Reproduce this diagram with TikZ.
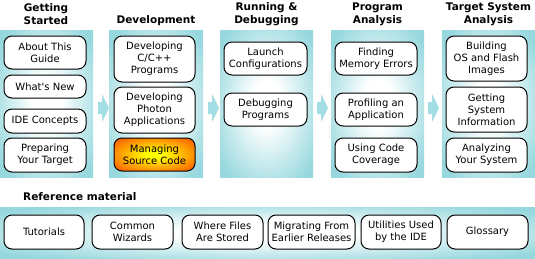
\documentclass[tikz,border=0pt]{standalone}
\usepackage{fontspec}
\setmainfont{DejaVu Sans}[Ligatures=TeXOff]
\usetikzlibrary{calc}
\definecolor{pcyan}{RGB}{150,216,222}
\definecolor{acyan}{RGB}{162,222,228}
\definecolor{hotin}{RGB}{255,190,0}
\definecolor{hotmid}{RGB}{252,120,0}
\definecolor{hotedge}{RGB}{232,72,0}
\pgfdeclareradialshading{panelshade}{\pgfpoint{0bp}{0bp}}{color(0bp)=(white); color(8bp)=(white); color(32bp)=(pcyan); color(50bp)=(pcyan)}
\pgfdeclareradialshading{hotshade}{\pgfpoint{0bp}{0bp}}{color(0bp)=(yellow); color(5bp)=(yellow); color(16bp)=(hotin); color(28bp)=(hotmid); color(40bp)=(hotedge); color(50bp)=(hotedge)}
\begin{document}
\begin{tikzpicture}[x=1pt,y=-1pt,
  box/.style={draw=black, line width=1pt, fill=white, rounded corners=8pt, align=center,
    inner sep=0pt, font=\fontsize{10}{12}\selectfont},
  panel/.style={shading=panelshade, draw=none, inner sep=0pt, anchor=north west},
  head/.style={font=\bfseries\fontsize{10.5}{13}\selectfont, align=center, inner sep=0pt},
  flow/.style={fill=acyan, draw=none}]
\useasboundingbox (0,0) rectangle (535,258);
% panels
\node[panel, minimum width=93pt, minimum height=147pt] (p1) at (0,30) {};
\node[panel, minimum width=94pt, minimum height=147pt] (p2) at (109,30) {};
\node[panel, minimum width=93pt, minimum height=147pt] (p3) at (220,30) {};
\node[panel, minimum width=93pt, minimum height=147pt] (p4) at (331,30) {};
\node[panel, minimum width=93pt, minimum height=147pt] (p5) at (442,30) {};
% arrows between panels
\foreach \x in {98,208,317,428}
  \fill[flow] (\x,102) -- (\x+4,102) -- (\x+4,94) -- (\x+11,108) -- (\x+4,122) -- (\x+4,114) -- (\x,114) -- cycle;
% headings
\node[head] (h1) at (46,14.5) {Getting\\Started};
\node[head] (h2) at (156,21) {Development};
\node[head] (h3) at (266.5,14.5) {Running \&\\Debugging};
\node[head] (h4) at (377.5,14.5) {Program\\Analysis};
\node[head] (h5) at (488.5,14.5) {Target System\\Analysis};
% panel 1
\node[box, minimum width=82pt, minimum height=33pt] (b11) at (45,52.5) {About This\\Guide};
\node[box, minimum width=82pt, minimum height=23pt] (b12) at (45,86.5) {What's New};
\node[box, minimum width=82pt, minimum height=24pt] (b13) at (45,121) {IDE Concepts};
\node[box, minimum width=82pt, minimum height=34pt] (b14) at (45,155) {Preparing\\Your Target};
% panel 2
\node[box, minimum width=81pt, minimum height=46pt] (b21) at (154.5,59) {Developing\\C/C++\\Programs};
\node[box, minimum width=81pt, minimum height=46pt] (b22) at (154.5,110) {Developing\\Photon\\Applications};
\node[box, minimum width=81pt, minimum height=33pt, shading=hotshade] (b23) at (154.5,154.5) {Managing\\Source Code};
% panel 3
\node[box, minimum width=83pt, minimum height=33pt] (b31) at (265.5,58.5) {Launch\\Configurations};
\node[box, minimum width=83pt, minimum height=33pt] (b32) at (265.5,109.5) {Debugging\\Programs};
% panel 4
\node[box, minimum width=82pt, minimum height=33pt] (b41) at (376,58.5) {Finding\\Memory Errors};
\node[box, minimum width=82pt, minimum height=33pt] (b42) at (376,109.5) {Profiling an\\Application};
\node[box, minimum width=82pt, minimum height=34pt] (b43) at (376,155) {Using Code\\Coverage};
% panel 5
\node[box, minimum width=81pt, minimum height=45pt] (b51) at (486.5,58.5) {Building\\OS and Flash\\Images};
\node[box, minimum width=81pt, minimum height=45pt] (b52) at (486.5,109.5) {Getting\\System\\Information};
\node[box, minimum width=81pt, minimum height=34pt] (b53) at (486.5,155) {Analyzing\\Your System};
% reference material
\node[head, anchor=west] (rm) at (23,197) {Reference material};
\node[panel, minimum width=535pt, minimum height=51pt] (band) at (0,207) {};
\node[box, minimum width=80pt, minimum height=34pt] (r1) at (44,232) {Tutorials};
\node[box, minimum width=81pt, minimum height=34pt] (r2) at (132.5,232) {Common\\Wizards};
\node[box, minimum width=81pt, minimum height=34pt] (r3) at (222.5,232) {Where Files\\Are Stored};
\node[box, minimum width=87pt, minimum height=34pt] (r4) at (311.5,232) {Migrating From\\Earlier Releases};
\node[box, minimum width=80pt, minimum height=34pt] (r5) at (401,232) {Utilities Used\\by the IDE};
\node[box, minimum width=81pt, minimum height=34pt] (r6) at (487.5,232) {Glossary};
\end{tikzpicture}
\end{document}
